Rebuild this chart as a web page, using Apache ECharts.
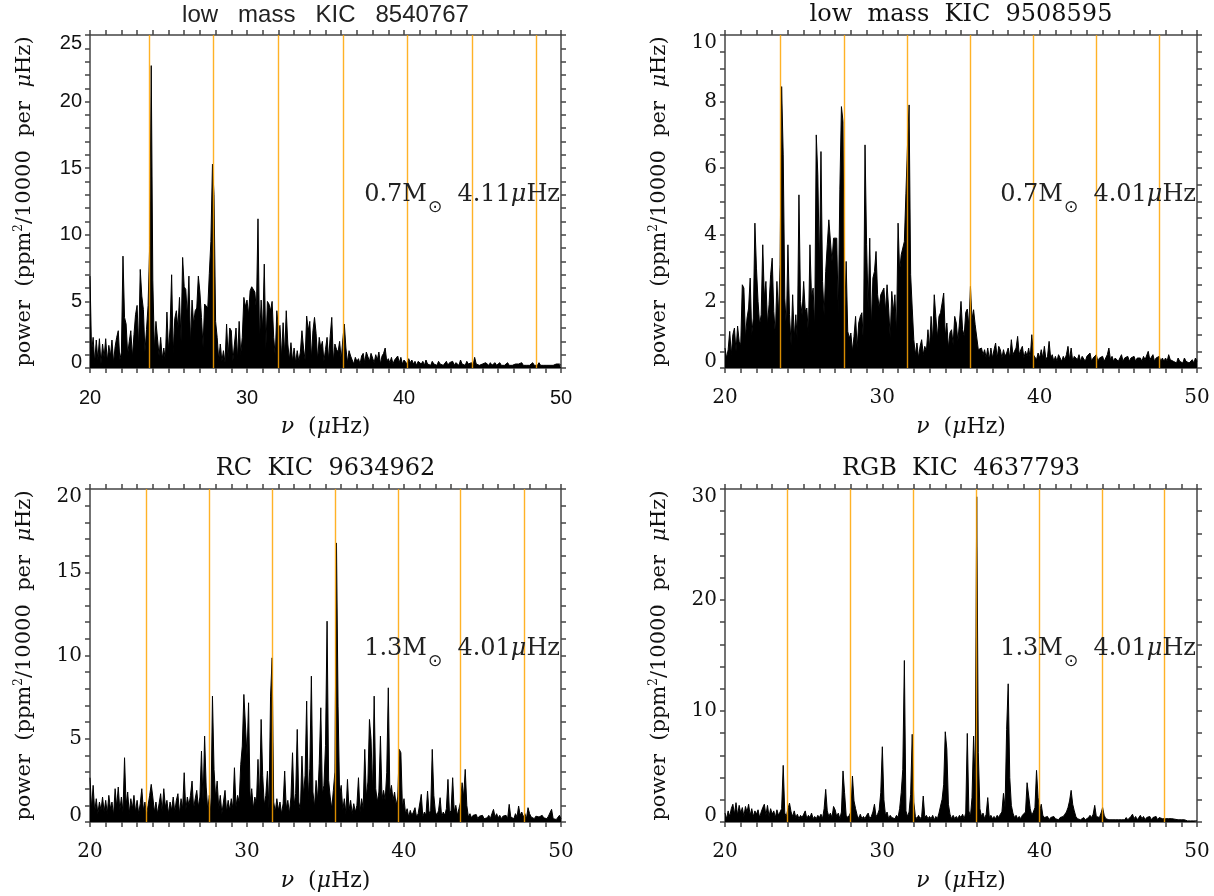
<!DOCTYPE html>
<html><head><meta charset="utf-8">
<script src="https://cdn.jsdelivr.net/npm/echarts/dist/echarts.min.js"></script>
<style>html,body{margin:0;padding:0;background:#fff}#c{width:1214px;height:896px}</style>
</head><body><div id="c"></div>
<script>
// ---------------- data ----------------
const NU_MIN = 20, NU_MAX = 50, NU_STEP = 0.1;   // frequency grid of the spectra (muHz)
const xTicks = [20, 30, 40, 50];
const titles = ['low mass KIC 8540767', 'low mass KIC 9508595', 'RC KIC 9634962', 'RGB KIC 4637793'];
const masses = ['0.7', '0.7', '1.3', '1.3'];
const dnus = ['4.11', '4.01', '4.01', '4.01'];
const yMax = [25, 10, 20, 30];
const yStep = [5, 2, 5, 10];
const yMinorSplit = [5, 4, 5, 5];

// vertical marker frequencies (muHz)
const linesTL = [23.78, 27.85, 31.98, 36.10, 40.20, 44.32, 48.41];
const linesTR = [23.54, 27.58, 31.60, 35.59, 39.58, 43.60, 47.60];
const linesBL = [23.56, 27.59, 31.59, 35.61, 39.61, 43.61, 47.63];
const linesBR = [23.94, 27.93, 31.95, 35.96, 39.98, 43.99, 47.95];

// power spectra sampled every 0.1 muHz from 20.0 to 50.0
const powTL = [
6.9,1.2,2.3,0.4,2.1,0.6,2.2,0.3,1.8,0.8,
2.2,0.5,1.7,0.9,2.1,0.4,1.6,2.3,2.8,0.6,
1.2,8.4,3.8,3.3,1.0,2.0,2.8,0.8,2.5,4.0,
4.7,1.5,7.4,5.4,4.4,1.2,2.9,4.7,9.2,22.7,
6.6,1.4,3.5,3.4,0.9,2.3,0.7,1.5,0.6,4.2,
1.3,3.0,7.0,1.1,3.7,4.3,3.0,5.3,2.0,8.3,
6.1,5.9,3.9,6.9,1.8,5.1,3.3,4.3,4.5,6.9,
5.7,3.8,1.6,4.8,4.8,4.5,7.1,9.5,15.3,13.0,
3.5,2.3,0.6,1.8,0.5,1.3,0.4,3.3,0.8,3.0,
2.8,0.5,1.8,3.0,0.7,3.5,1.0,2.3,5.3,4.6,
5.1,4.0,5.8,6.1,6.2,5.7,4.3,11.2,2.0,5.1,
2.8,7.8,1.4,5.0,4.8,4.3,5.0,2.3,0.9,4.3,
3.0,3.2,0.8,3.4,1.0,4.3,1.8,0.6,1.9,0.5,
1.5,0.4,1.3,0.5,1.2,2.8,1.5,0.6,3.9,2.8,
3.5,0.7,2.8,3.8,2.6,0.6,2.3,1.5,2.0,0.5,
1.4,2.3,0.6,2.4,3.8,0.5,1.8,1.4,1.2,2.0,
0.6,2.1,3.3,1.5,0.4,1.3,0.9,1.0,0.3,0.8,
0.5,0.7,0.3,0.9,1.1,0.4,1.2,1.3,0.5,1.1,
1.2,0.4,1.0,0.6,1.2,0.3,0.9,1.1,1.5,0.5,
0.7,0.4,0.8,0.3,0.6,0.5,0.9,0.4,0.8,0.3,
0.6,0.5,0.3,0.7,0.4,0.6,0.3,0.5,0.2,0.5,
0.4,0.3,0.5,0.2,0.6,0.3,0.4,0.2,0.5,0.3,
0.4,0.2,0.5,0.3,0.4,0.2,0.3,0.5,0.2,0.4,
0.3,0.5,0.2,0.4,0.3,0.2,0.6,0.3,0.4,0.2,
0.5,0.3,0.2,0.4,0.2,0.8,0.3,0.4,0.2,0.3,
0.3,0.2,0.4,0.3,0.2,0.4,0.2,0.3,0.4,0.2,
0.3,0.4,0.2,0.3,0.2,0.3,0.4,0.2,0.3,0.2,
0.2,0.3,0.2,0.3,0.2,0.4,0.2,0.3,0.2,0.3,
0.2,0.3,0.4,0.2,0.3,0.2,0.4,0.2,0.1,0.2,
0.1,0.2,0.3,0.2,0.3,0.2,0.1,0.3,0.2,0.3,
0.2];
const powTR = [
0.6,0.3,0.55,1.1,0.4,1.0,1.2,0.5,1.26,0.8,
0.7,2.5,2.4,0.9,1.5,1.8,2.7,1.0,1.5,4.35,
3.0,2.0,1.3,1.6,3.7,2.1,2.6,1.3,1.9,2.8,
3.3,1.7,1.0,2.6,1.6,3.1,8.45,6.4,2.1,1.2,
3.7,1.6,0.7,2.2,0.9,1.6,0.8,5.2,2.0,1.6,
2.6,1.7,1.8,1.0,3.7,2.1,2.4,1.2,7.0,5.8,
3.0,6.5,2.6,1.6,2.9,3.7,4.45,4.5,3.2,3.9,
3.9,3.9,1.6,5.35,7.85,7.4,1.3,3.2,1.1,0.9,
1.05,0.5,0.95,1.55,0.6,1.35,1.55,1.66,0.7,6.7,
3.7,1.76,3.9,1.2,2.7,2.9,3.5,2.2,1.8,2.2,
2.2,2.4,1.7,2.5,1.8,0.9,2.3,1.7,2.2,1.0,
4.35,2.9,3.4,3.4,3.8,5.25,6.7,7.9,2.8,1.8,
0.85,0.4,0.75,0.3,0.65,0.85,0.4,0.65,0.5,1.15,
0.6,1.55,0.8,2.2,1.55,0.9,1.55,1.66,1.95,2.25,
0.96,1.35,0.6,1.06,1.15,0.7,1.55,1.35,0.8,1.35,
2.0,1.16,0.96,1.67,1.77,1.26,2.45,1.46,1.75,1.3,
1.36,0.55,0.55,0.6,0.4,0.55,0.3,0.6,0.25,0.6,
0.3,0.55,0.75,0.3,0.65,0.55,0.3,0.55,0.35,0.45,
0.6,0.3,0.85,0.4,0.5,0.6,0.95,0.4,0.55,0.65,
0.3,0.5,0.35,0.6,0.3,1.0,0.4,0.35,0.25,0.45,
0.3,0.55,0.3,0.65,0.25,0.35,0.8,0.3,0.4,0.2,
0.35,0.2,0.4,0.3,0.2,0.35,0.25,0.4,0.65,0.25,
0.6,0.2,0.35,0.3,0.25,0.4,0.2,0.35,0.3,0.2,
0.35,0.3,0.45,0.2,0.3,0.25,0.4,0.2,0.3,0.25,
0.35,0.2,0.3,0.4,0.6,0.25,0.35,0.2,0.3,0.35,
0.2,0.3,0.4,0.2,0.3,0.25,0.35,0.2,0.3,0.25,
0.35,0.2,0.3,0.25,0.3,0.2,0.35,0.25,0.2,0.5,
0.25,0.3,0.4,0.2,0.3,0.25,0.35,0.2,0.3,0.2,
0.3,0.2,0.4,0.25,0.3,0.2,0.25,0.15,0.3,0.2,
0.25,0.15,0.3,0.2,0.25,0.15,0.2,0.25,0.15,0.3,
0.2];
const powBL = [
2.66,0.8,2.2,0.6,1.4,0.5,1.2,0.7,1.5,0.6,
1.3,0.5,1.6,0.8,1.2,0.4,2.0,0.9,2.1,0.7,
1.5,0.6,3.86,1.0,1.8,0.5,1.4,0.8,1.6,0.6,
1.3,0.5,1.1,2.0,0.7,1.2,0.4,1.0,1.6,2.26,
1.5,0.6,1.2,0.5,1.1,1.7,0.6,2.0,0.9,1.3,
0.5,1.2,0.7,1.5,0.6,1.3,1.7,0.5,1.4,0.8,
2.96,0.7,1.5,1.0,1.6,2.46,0.8,1.4,1.9,0.9,
1.5,4.26,1.2,5.16,2.1,0.7,1.6,0.5,7.56,3.16,
1.5,2.46,0.8,1.6,0.5,1.2,1.9,0.6,1.3,0.7,
1.4,0.8,3.26,0.9,1.6,1.2,3.46,4.56,7.66,7.66,
4.0,7.16,1.2,2.0,0.8,1.5,1.1,3.76,1.3,6.16,
2.8,1.0,1.6,3.06,0.8,7.56,9.86,1.2,0.6,1.4,
0.7,1.2,0.5,1.1,3.06,0.8,1.3,0.5,1.5,4.16,
1.0,1.7,5.56,1.2,0.7,3.96,1.6,2.8,7.26,1.4,
3.2,8.76,1.8,0.9,2.5,1.3,3.5,6.86,1.7,2.2,
4.6,12.06,2.5,1.5,0.8,1.9,3.0,16.76,6.96,1.6,
2.2,0.7,1.4,0.5,2.56,0.7,1.3,0.5,1.1,0.6,
1.0,2.66,0.6,1.4,0.8,4.36,1.5,2.4,6.16,5.0,
1.8,7.56,2.0,1.2,1.8,5.16,1.4,1.9,1.3,2.96,
8.06,1.7,2.2,1.3,1.8,1.0,1.5,4.36,4.16,0.9,
1.4,0.5,0.8,0.3,0.7,0.4,0.6,0.86,0.3,0.5,
0.4,1.66,0.3,0.6,0.4,1.86,0.5,0.7,4.36,1.6,
0.6,0.4,0.7,1.46,0.3,0.6,0.4,0.8,2.56,0.5,
0.7,2.66,0.6,1.0,0.4,0.8,1.2,2.36,1.5,3.16,
1.0,0.3,0.5,0.25,0.4,0.3,0.45,0.2,0.35,0.3,
0.4,0.2,0.3,0.25,0.4,0.2,0.5,0.76,0.3,0.5,
0.25,0.4,0.2,0.35,0.3,0.4,0.2,1.06,0.3,0.4,
0.2,0.5,0.3,0.96,0.4,0.6,0.3,0.5,0.2,0.86,
0.5,0.3,0.4,0.2,0.35,0.25,0.3,0.2,0.4,0.25,
0.3,0.2,0.35,0.25,0.76,0.2,0.3,0.15,0.25,0.4,
0.2];
const powBR = [
0.8,0.3,1.0,0.5,1.2,1.6,0.7,1.74,0.6,1.5,
0.8,1.3,0.5,1.4,0.9,1.6,0.6,1.2,0.5,1.0,
0.7,1.1,0.4,0.9,1.3,1.6,0.6,1.5,0.5,1.2,
0.7,1.0,0.4,1.1,0.6,0.9,1.2,5.1,0.8,0.5,
1.2,1.7,0.9,0.5,1.0,0.4,0.7,0.3,0.6,0.4,
0.7,1.0,0.3,0.6,0.4,0.8,0.3,0.5,0.3,0.6,
0.4,0.7,0.3,1.2,2.94,1.0,0.5,0.8,0.4,1.4,
1.1,0.5,0.8,0.3,0.9,4.6,2.64,0.6,0.4,0.6,
0.9,4.14,1.9,1.2,0.6,0.3,0.7,0.3,0.5,0.3,
0.6,0.8,0.3,0.5,0.9,1.6,0.5,0.7,1.1,2.64,
6.78,2.0,0.6,0.9,0.3,0.6,0.4,0.5,0.3,0.6,
0.4,1.2,2.64,4.74,14.55,1.0,0.5,0.9,2.5,7.9,
1.8,0.5,0.3,0.6,0.3,0.5,2.34,0.4,0.6,0.3,
0.5,0.3,0.6,0.2,0.5,0.3,0.8,1.44,2.04,3.4,
8.13,6.54,1.6,0.7,0.3,0.6,0.3,0.5,0.3,0.6,
0.4,0.7,0.3,0.8,7.98,1.0,0.5,2.2,7.74,3.2,
29.3,6.24,1.2,0.5,0.8,0.3,0.7,2.2,0.4,0.6,
0.3,0.5,0.3,0.6,0.4,0.7,0.9,2.58,1.3,8.34,
12.45,4.0,1.5,0.8,0.4,0.6,0.3,0.5,0.3,0.6,
0.5,0.9,3.54,3.4,1.2,0.6,0.9,1.3,4.65,2.2,
1.0,1.6,0.6,0.4,0.3,0.5,0.2,0.4,0.3,0.5,
0.3,0.4,0.2,0.4,0.3,0.5,0.7,0.9,1.3,1.9,
2.85,1.6,1.0,0.5,0.3,0.4,0.2,0.3,0.4,0.2,
0.3,0.4,0.6,0.4,0.7,1.5,0.5,0.6,0.4,0.8,
1.3,0.6,0.3,0.4,0.2,0.3,0.2,0.3,0.2,0.3,
0.2,0.3,0.2,0.3,0.2,0.4,0.2,0.3,0.5,0.7,
0.3,0.5,0.2,0.4,0.6,0.3,0.5,0.2,0.4,0.3,
0.5,0.2,0.4,0.3,0.5,0.2,0.4,0.54,0.3,0.4,
0.3,0.2,0.3,0.2,0.3,0.15,0.25,0.15,0.2,0.15,
0.2,0.1,0.2,0.15,0.1,0.15,0.1,0.15,0.1,0.1,
0.1];

// ---------------- layout / style ----------------
const pows = [powTL, powTR, powBL, powBR];
const lineSets = [linesTL, linesTR, linesBL, linesBR];
const boxes = [
  {left: 90, top: 35, width: 471, height: 333},
  {left: 725, top: 35, width: 472, height: 333},
  {left: 90, top: 489, width: 471, height: 333},
  {left: 725, top: 489, width: 472, height: 333}
];
const SERIF = "'DejaVu Serif', 'Liberation Serif', serif";
const SANS = "'Liberation Sans', Arial, sans-serif";
const INK = '#111';
const AXIS = {color: '#444', width: 1.5};
const ORANGE = '#FFA500';

const grid = boxes.map(b => ({left: b.left, top: b.top, width: b.width, height: b.height}));
const xAxis = [], yAxis = [], series = [], graphic = [];

boxes.forEach((b, i) => {
  const tickFont = i === 0 ? SANS : SERIF;
  const tickSize = 20;
  const commonX = {
    type: 'value', gridIndex: i, min: NU_MIN, max: NU_MAX, interval: 10,
    axisLine: {show: true, onZero: false, lineStyle: AXIS},
    axisTick: {show: true, inside: false, length: 5, lineStyle: AXIS},
    minorTick: {show: true, splitNumber: 10, length: 5, lineStyle: AXIS},
    splitLine: {show: false}, minorSplitLine: {show: false}
  };
  xAxis.push(Object.assign({}, commonX, {
    position: 'bottom',
    axisLabel: {show: true, margin: 20, fontFamily: tickFont, fontSize: tickSize, color: INK},
    name: '{i|\u03bd}  ({i|\u03bc}Hz)', nameLocation: 'middle', nameGap: 48,
    nameTextStyle: {fontFamily: SERIF, fontSize: 22, color: INK,
      rich: {i: {fontFamily: SERIF, fontSize: 22, fontStyle: 'italic', color: INK}}}
  }));
  xAxis.push(Object.assign({}, commonX, {position: 'top', axisLabel: {show: false}}));

  const ymax = yMax[i];
  const commonY = {
    type: 'value', gridIndex: i, min: 0, max: ymax, interval: yStep[i],
    axisLine: {show: true, onZero: false, lineStyle: AXIS},
    axisTick: {show: true, inside: false, length: 5, lineStyle: AXIS},
    minorTick: {show: true, splitNumber: yMinorSplit[i], length: 5, lineStyle: AXIS},
    splitLine: {show: false}, minorSplitLine: {show: false}
  };
  const tok = {fontFamily: tickFont, fontSize: tickSize, color: INK};
  yAxis.push(Object.assign({}, commonY, {
    position: 'left',
    axisLabel: {show: true, margin: 8, fontFamily: tickFont, fontSize: tickSize, color: INK,
      formatter: v => v === ymax ? '{t|' + v + '}' : (v === 0 ? '{b|0}' : '{n|' + v + '}'),
      rich: {
        n: Object.assign({}, tok),
        t: Object.assign({padding: [16, 0, 0, 0]}, tok),
        b: Object.assign({padding: [0, 0, 12, 0]}, tok)
      }},
    name: 'power  (ppm{s|2}/10000  per  {i|\u03bc}Hz)', nameLocation: 'middle', nameGap: 53,
    nameTextStyle: {fontFamily: SERIF, fontSize: 21, color: INK,
      rich: {
        s: {fontFamily: SERIF, fontSize: 12, color: INK, padding: [0, 0, 12, 0]},
        i: {fontFamily: SERIF, fontSize: 21, fontStyle: 'italic', color: INK}
      }}
  }));
  yAxis.push(Object.assign({}, commonY, {position: 'right', axisLabel: {show: false}}));

  const data = pows[i].map((v, k) => [+(NU_MIN + k * NU_STEP).toFixed(1), v]);
  series.push({
    type: 'line', xAxisIndex: 2 * i, yAxisIndex: 2 * i, data: data,
    showSymbol: false, symbol: 'none', sampling: null, clip: true, silent: true,
    lineStyle: {color: '#000', width: 1},
    areaStyle: {color: '#000', opacity: 1, origin: 'start'},
    markLine: {
      silent: true, symbol: ['none', 'none'], animation: false,
      label: {show: false}, emphasis: {disabled: true},
      lineStyle: {color: ORANGE, width: 1.4, type: 'solid', opacity: 0.85},
      data: lineSets[i].map(v => ({xAxis: v}))
    }
  });

  // panel title
  graphic.push({
    type: 'text', x: b.left + b.width / 2, y: b.top - 20,
    style: {
      text: titles[i].replace(/ /g, i === 0 ? '   ' : '  '),
      fontFamily: i === 0 ? SANS : SERIF, fontSize: 24, fill: i === 0 ? '#222' : INK,
      align: 'center', verticalAlign: 'middle', textAlign: 'center', textVerticalAlign: 'middle'
    }
  });
  // annotation
  graphic.push({
    type: 'text', x: b.left + b.width - 1, y: b.top + 160,
    style: {
      text: '{a|' + masses[i] + 'M}{g|\u2299}{a|  ' + dnus[i] + '}{m|\u03bc}{a|Hz}',
      align: 'right', verticalAlign: 'middle', textAlign: 'right', textVerticalAlign: 'middle',
      rich: {
        a: {fontFamily: SERIF, fontSize: 24, fill: '#222', color: '#222'},
        m: {fontFamily: SERIF, fontSize: 24, fontStyle: 'italic', fill: '#222', color: '#222'},
        g: {fontFamily: "'DejaVu Sans', sans-serif", fontSize: 17, fill: '#222', color: '#222', padding: [26, 0, 0, 1]}
      }
    },
    z: 100
  });
});

const chart = echarts.init(document.getElementById('c'), null, {renderer: 'canvas'});
chart.setOption({
  backgroundColor: '#fff',
  animation: false,
  grid: grid, xAxis: xAxis, yAxis: yAxis, series: series, graphic: graphic
});
</script></body></html>
